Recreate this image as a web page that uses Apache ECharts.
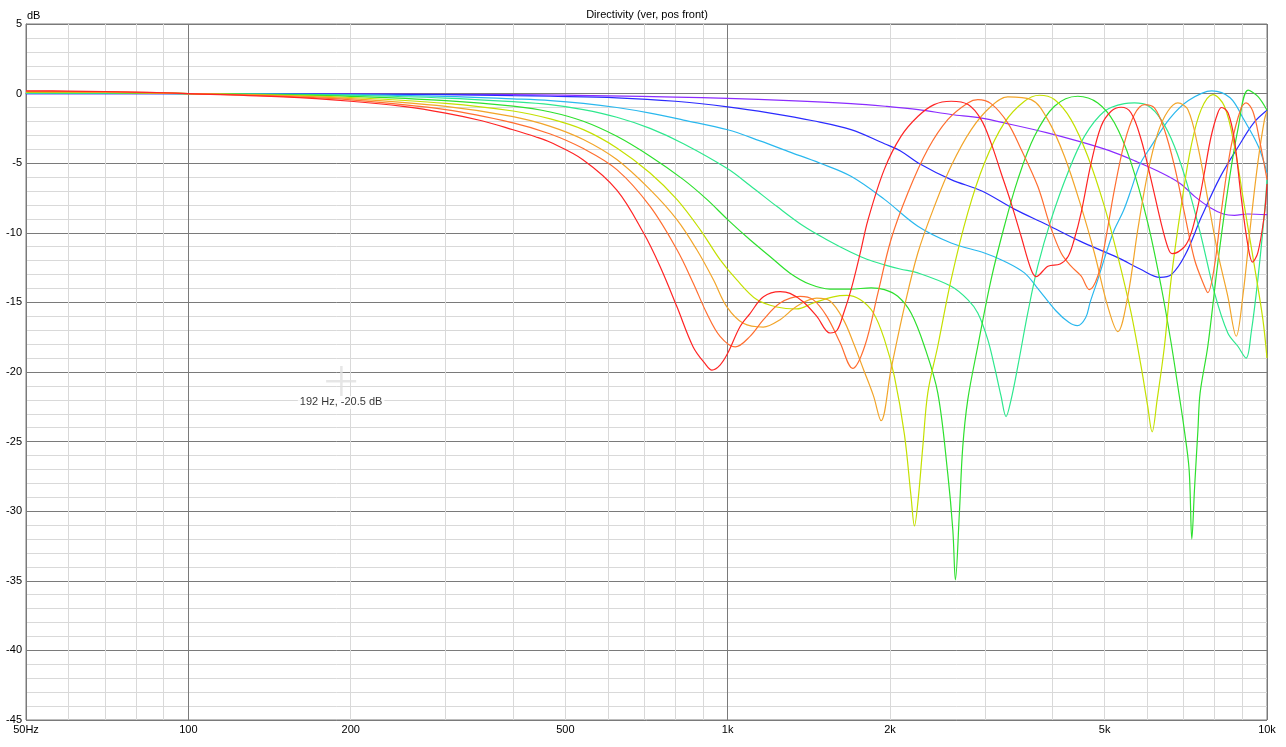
<!DOCTYPE html>
<html><head><meta charset="utf-8">
<script src="https://cdn.jsdelivr.net/npm/echarts@6/dist/echarts.min.js"></script>
<style>html,body{margin:0;padding:0;background:#fff;}#c{width:1286px;height:747px;}</style>
</head><body><div id="c"></div>
<script>
// ---- data (frequency in Hz, level in dB) ----
const redFreq = [50,60,70,80,90,100,150,200,250,300,350,400,440,469,539,623,698,749,805,863,908,935,968,1000,1054,1100,1165,1251,1305,1380,1463,1548,1595,1640,1693,1760,1821,1951,2097,2254,2414,2596,2791,2951,3078,3213,3353,3500,3652,3731,3925,4134,4278,4390,4522,4720,4925,5140,5364,5598,5843,6096,6363,6556,6669,7029,7232,7445,7650,7875,8105,8240,8470,8699,8953,9225,9400,9620,9880,10000];
const redDb = [0.2,0.18,0.15,0.11,0.06,0,-0.24,-0.55,-0.92,-1.4,-1.95,-2.6,-3.1,-3.5,-4.75,-6.93,-10.0,-12.4,-15.3,-18.2,-19.4,-19.86,-19.5,-18.66,-16.75,-15.8,-14.6,-14.23,-14.35,-14.95,-16.0,-17.2,-17.0,-15.8,-14.1,-11.5,-9.05,-5.46,-3.06,-1.63,-0.79,-0.55,-0.79,-1.87,-3.54,-5.7,-7.85,-10.25,-12.64,-13.15,-12.4,-12.24,-11.7,-10.5,-8.57,-4.98,-2.35,-1.27,-0.98,-1.39,-3.3,-6.18,-9.3,-11.1,-11.5,-11.0,-10.04,-8.12,-5.73,-3.1,-1.39,-1.0,-1.39,-3.3,-7.4,-11.0,-12.1,-11.4,-8.8,-6.5];

const coralFreq = [50,60,70,80,90,100,150,200,300,400,469,540,623,718,805,863,914,968,1033,1100,1165,1251,1362,1440,1527,1616,1705,1795,1900,2008,2158,2350,2559,2788,2910,3078,3306,3500,3758,3965,4152,4332,4521,4685,4856,4995,5213,5440,5678,5925,6184,6454,6735,7029,7336,7656,7766,7990,8221,8580,8954,9147,9413,9682,10000];
const coralDb = [0.17,0.15,0.12,0.09,0.05,0,-0.2,-0.45,-1.15,-2.1,-2.9,-3.95,-5.46,-8.1,-11.2,-13.6,-15.76,-17.44,-18.2,-17.44,-16.24,-15.04,-14.56,-14.8,-16.0,-17.9,-19.74,-18.15,-14.3,-10.5,-7.14,-4.0,-1.87,-0.67,-0.43,-0.72,-2.1,-4.0,-6.66,-9.53,-11.45,-12.4,-13.1,-14.08,-13.1,-10.97,-6.9,-3.54,-1.5,-0.79,-1.03,-2.6,-5.2,-8.57,-11.9,-13.84,-14.3,-12.4,-8.57,-3.78,-1.03,-0.67,-1.27,-3.3,-6.18];

const amberFreq = [50,60,70,80,90,100,150,200,300,400,469,540,623,718,805,876,941,996,1069,1164,1251,1343,1462,1548,1639,1710,1785,1863,1925,2009,2127,2252,2417,2596,2827,3079,3306,3653,3922,4211,4521,4786,5068,5289,5519,5760,6011,6274,6548,6833,7132,7443,7767,8106,8459,8769,9019,9345,9616,9892,10000];
const amberDb = [0.14,0.12,0.1,0.07,0.04,0,-0.15,-0.36,-0.92,-1.65,-2.35,-3.3,-4.74,-6.9,-9.05,-11.2,-13.37,-15.3,-16.5,-16.77,-16.24,-15.28,-14.7,-14.9,-16.24,-17.9,-19.8,-21.7,-23.5,-19.8,-15.3,-11.45,-8.1,-5.2,-2.6,-0.91,-0.24,-0.43,-1.87,-4.5,-8.1,-11.45,-15.3,-17.1,-14.56,-9.77,-5.7,-2.83,-1.27,-0.67,-1.15,-3.78,-7.6,-11.45,-14.56,-17.43,-14.56,-9.05,-4.98,-1.87,-1.27];

const yellowFreq = [50,60,70,80,90,100,150,200,300,400,469,540,623,718,805,889,968,1039,1132,1233,1343,1441,1570,1663,1760,1863,1953,2037,2127,2188,2220,2252,2300,2350,2452,2596,2787,2993,3258,3550,3784,4035,4332,4652,4995,5289,5598,5842,6011,6123,6256,6454,6640,6931,7233,7548,7935,8338,8702,9082,9478,9824,10000];
const yellowDb = [0.11,0.1,0.08,0.06,0.03,0,-0.12,-0.28,-0.7,-1.25,-1.82,-2.59,-3.9,-5.7,-7.6,-9.77,-11.93,-13.37,-14.8,-15.33,-15.47,-15.04,-14.6,-14.5,-14.8,-15.76,-17.67,-20.3,-24.5,-28.96,-31.06,-29.4,-25.4,-21.5,-18.15,-13.36,-8.57,-4.98,-2.1,-0.55,-0.12,-0.43,-1.87,-4.5,-8.1,-11.7,-15.76,-19.6,-22.5,-24.3,-22.0,-18.15,-13.36,-8.1,-3.78,-1.15,-0.07,-0.91,-3.78,-8.1,-12.4,-16.2,-19.0];

const greenFreq = [50,60,70,80,90,100,150,200,300,400,469,540,623,718,828,915,1000,1100,1198,1305,1421,1548,1686,1845,1953,2067,2188,2316,2452,2559,2615,2644,2689,2728,2787,2909,3079,3258,3451,3705,4035,4458,4856,5213,5598,6011,6363,6640,6878,7016,7171,7255,7336,7445,7516,7767,8106,8459,8830,9226,9616,10000];
const greenDb = [0.08,0.07,0.06,0.04,0.02,0,-0.09,-0.2,-0.5,-0.9,-1.32,-1.99,-3.07,-4.5,-6.18,-7.6,-9.05,-10.5,-11.7,-12.9,-13.7,-14.04,-14.04,-13.96,-14.08,-14.56,-15.76,-18.15,-21.5,-27.3,-31.35,-34.94,-30.15,-25.4,-22.0,-18.15,-13.36,-9.53,-6.18,-3.07,-0.91,-0.19,-0.67,-2.1,-4.98,-9.29,-13.84,-17.9,-21.74,-24.0,-27.0,-32.0,-28.5,-24.2,-21.5,-18.15,-12.16,-6.9,-2.59,0.25,-0.2,-1.2];

const tealFreq = [50,60,70,80,90,100,150,200,300,400,469,540,623,718,828,1000,1100,1233,1380,1527,1693,1812,1953,2088,2252,2596,2787,2909,3036,3123,3213,3282,3353,3451,3601,3758,3978,4272,4586,4995,5440,5678,6011,6363,6735,7132,7548,7990,8459,8830,9147,9345,9616,9892,10000];
const tealDb = [0.05,0.04,0.035,0.025,0.01,0,-0.05,-0.12,-0.32,-0.58,-0.79,-1.15,-1.7,-2.5,-3.6,-5.4,-6.6,-8.1,-9.5,-10.5,-11.4,-11.9,-12.3,-12.6,-12.88,-13.84,-14.8,-15.76,-17.67,-19.6,-21.74,-23.2,-22.0,-19.6,-15.76,-12.4,-9.05,-5.7,-3.07,-1.27,-0.72,-0.67,-0.86,-1.87,-3.78,-6.66,-10.25,-14.3,-17.2,-18.15,-19.0,-17.2,-13.36,-8.57,-6.2];

const cyanFreq = [50,100,200,300,400,469,540,623,718,828,1000,1148,1305,1484,1693,1953,2252,2596,2993,3258,3550,3740,4060,4290,4450,4610,4699,4856,5050,5213,5420,5598,5817,6071,6600,7150,7900,8543,9070,9640,10000];
const cyanDb = [0.02,0,-0.08,-0.2,-0.38,-0.5,-0.7,-1.0,-1.4,-1.9,-2.6,-3.4,-4.2,-5.0,-5.94,-7.6,-9.53,-10.73,-11.45,-12.04,-12.88,-13.9,-15.6,-16.43,-16.67,-16.1,-15.0,-13.36,-11.28,-9.77,-8.4,-6.9,-5.06,-3.9,-1.8,-0.5,0.2,-0.3,-1.9,-3.8,-5.7];

const blueFreq = [50,100,200,300,400,469,623,800,1000,1200,1440,1693,1953,2088,2256,2596,2960,3400,3900,4500,5300,5817,6336,6650,7050,7570,8186,8850,9450,10000];
const blueDb = [0,0,-0.03,-0.08,-0.15,-0.19,-0.3,-0.55,-0.95,-1.4,-1.95,-2.59,-3.6,-4.1,-4.98,-6.18,-7.0,-8.3,-9.4,-10.6,-11.8,-12.6,-13.2,-13.0,-11.6,-8.8,-6.0,-3.8,-2.1,-1.2];

const violetFreq = [50,100,200,400,600,800,1000,1300,1693,1958,2256,2596,2938,3340,3900,4500,5100,5700,6300,6900,7350,7850,8300,8700,9200,10000];
const violetDb = [0,0,-0.03,-0.08,-0.16,-0.25,-0.34,-0.5,-0.72,-0.91,-1.15,-1.5,-1.75,-2.2,-2.8,-3.45,-4.1,-4.85,-5.6,-6.45,-7.4,-8.2,-8.65,-8.75,-8.65,-8.7];

// grid / tick values
const gridFreqs = [50,60,70,80,90,100,200,300,400,500,600,700,800,900,1000,2000,3000,4000,5000,6000,7000,8000,9000,10000];
const majorFreqs = [50,100,1000,10000];
const labelFreqs = [50,100,200,500,1000,2000,5000,10000];
const labelTexts = ['50Hz','100','200','500','1k','2k','5k','10k'];
const cursorPoint = [192, -20.5];
const cursorText = '192 Hz, -20.5 dB';
const yUnit = 'dB';
const chartTitle = 'Directivity (ver, pos front)';

const curves = [
  ['violet', violetFreq, violetDb, '#8b2cff'],
  ['blue', blueFreq, blueDb, '#2b2bff'],
  ['cyan', cyanFreq, cyanDb, '#2ab8ee'],
  ['teal', tealFreq, tealDb, '#2ee88e'],
  ['green', greenFreq, greenDb, '#2ee02e'],
  ['yellow', yellowFreq, yellowDb, '#c4e000'],
  ['amber', amberFreq, amberDb, '#f2a52a'],
  ['coral', coralFreq, coralDb, '#ff6e30'],
  ['red', redFreq, redDb, '#ff2424']
];
function zip(a, b) { const n = Math.min(a.length, b.length); const r = []; for (let i = 0; i < n; i++) r.push([a[i], b[i]]); return r; }

const FONT = 'Liberation Sans, Arial, sans-serif';
const series = curves.map(c => ({
  name: c[0], type: 'line', data: zip(c[1], c[2]), showSymbol: false, smooth: 0.35,
  lineStyle: { color: c[3], width: 1.2 }, itemStyle: { color: c[3] }, silent: true, z: 3
}));
series.push({
  type: 'scatter', data: [cursorPoint], silent: true, z: 2,
  symbol: 'path://M0,14H30V16.5H0Z M14,0H16.5V30H14Z', symbolSize: 30, symbolOffset: [0, 2],
  itemStyle: { color: '#e0e0e0' },
  label: { show: true, position: 'bottom', distance: 0, formatter: cursorText, color: '#000',
    fontSize: 11, fontFamily: FONT, backgroundColor: '#fff', padding: [1, 2] }
});

const chart = echarts.init(document.getElementById('c'), null, { renderer: 'canvas' });
chart.setOption({
  animation: false,
  backgroundColor: '#fff',
  textStyle: { fontFamily: FONT },
  title: { text: chartTitle, left: 642, textAlign: 'center', top: 4,
    textStyle: { fontSize: 11, fontWeight: 'normal', color: '#000', fontFamily: FONT } },
  graphic: [{ type: 'text', left: 27, top: 10, silent: true,
    style: { text: yUnit, fill: '#000', font: '11px ' + FONT } }],
  grid: { left: 26, right: 19, top: 24, bottom: 27, show: true, borderColor: '#7a7a7a', borderWidth: 1, containLabel: false },
  xAxis: {
    type: 'log', logBase: 10, min: 50, max: 10000,
    axisLine: { show: true, lineStyle: { color: '#7a7a7a' } },
    axisTick: { show: false, customValues: gridFreqs },
    axisLabel: { customValues: labelFreqs, color: '#000', fontSize: 11, margin: 4,
      formatter: v => { const i = labelFreqs.indexOf(Math.round(v)); return i >= 0 ? labelTexts[i] : ''; } },
    splitLine: { show: true, lineStyle: { width: 1, color: gridFreqs.map(f => majorFreqs.indexOf(f) >= 0 ? '#7a7a7a' : '#d9d9d9') } }
  },
  yAxis: {
    type: 'value', min: -45, max: 5, interval: 5,
    axisLine: { show: true, lineStyle: { color: '#7a7a7a' } },
    axisTick: { show: false },
    axisLabel: { color: '#000', fontSize: 11, margin: 4 },
    splitLine: { show: true, lineStyle: { color: '#7a7a7a', width: 1 } },
    minorTick: { show: false, splitNumber: 5 },
    minorSplitLine: { show: true, lineStyle: { color: '#d9d9d9', width: 1 } }
  },
  series: series
});
</script></body></html>
